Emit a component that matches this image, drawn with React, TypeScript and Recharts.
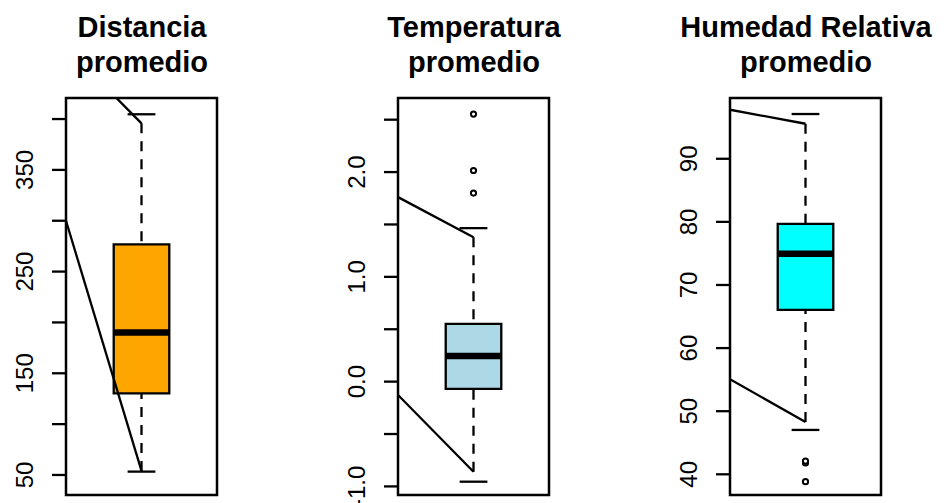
import React from "react";
import {
  ComposedChart,
  XAxis,
  YAxis,
  Scatter,
  ReferenceArea,
  ReferenceLine,
} from "recharts";

// boxplot stats, one entry per panel
const titles = [
  ["Distancia", "promedio"],
  ["Temperatura", "promedio"],
  ["Humedad Relativa", "promedio"],
];
const lowerCaps = [53.3, -0.955, 47.03];
const lowerWhiskerEnds = [54, -0.86, 48.29];
const q1s = [130.3, -0.07, 66.06];
const medians = [190, 0.245, 74.94];
const q3s = [276.8, 0.551, 79.69];
const upperWhiskerEnds = [395.8, 1.379, 95.55];
const upperCaps = [404.7, 1.465, 97.09];
const outliers = [[], [2.554, 2.015, 1.8], [41.8, 42.1, 38.83]];

// the two stray lines in each panel start at the left edge (x = 0.5)
const upperLineStarts = [470.8, 1.761, 97.77];
const lowerLineStarts = [300, -0.127, 55.06];

// axes
const yDomains = [
  [30.3, 420.7],
  [-1.082, 2.707],
  [36.72, 99.63],
];
const yTicks = [
  [50, 100, 150, 200, 250, 300, 350, 400],
  [-1, -0.5, 0, 0.5, 1, 1.5, 2, 2.5],
  [40, 50, 60, 70, 80, 90],
];
const yTickLabels = [
  [50, 150, 250, 350],
  [-1, 0, 1, 2],
  [40, 50, 60, 70, 80, 90],
];
const tickDigits = [0, 1, 0];

const boxColors = ["#FFA500", "#ADD8E6", "#00FFFF"];
const chartLefts = [0, 332, 664];

const FONT = "'Liberation Sans', Arial, sans-serif";
const HALF_BOX = 0.184;
const HALF_CAP = 0.092;
const LW = 2.3;

function makeTick(labeled: number[], digits: number) {
  return (props: any) => {
    const { x, y, payload } = props;
    const v = payload.value;
    if (!labeled.some((l) => Math.abs(l - v) < 1e-9)) return <g />;
    const cx = x - 27;
    return (
      <text
        x={cx}
        y={y}
        transform={`rotate(-90 ${cx} ${y})`}
        textAnchor="middle"
        dominantBaseline="central"
        fontSize={24}
        fontFamily={FONT}
        fill="#000"
      >
        {v.toFixed(digits)}
      </text>
    );
  };
}

function Panel({ i }: { i: number }) {
  const [ymin, ymax] = yDomains[i];
  const pts = outliers[i].map((v) => ({ x: 1, y: v }));
  return (
    <div style={{ position: "absolute", left: chartLefts[i], top: 0 }}>
      <ComposedChart
        width={230}
        height={503}
        margin={{ top: 98, right: 13, bottom: 8, left: 0 }}
      >
        <XAxis
          type="number"
          dataKey="x"
          domain={[0.5, 1.5]}
          allowDataOverflow
          hide
        />
        <YAxis
          type="number"
          dataKey="y"
          width={66}
          domain={[ymin, ymax]}
          allowDataOverflow
          ticks={yTicks[i]}
          interval={0}
          tickSize={14}
          tickMargin={0}
          axisLine={false}
          tickLine={{ stroke: "#000", strokeWidth: LW }}
          tick={makeTick(yTickLabels[i], tickDigits[i])}
        />
        {/* stray lines, clipped to the plot region */}
        <ReferenceLine
          segment={[
            { x: 0.5, y: upperLineStarts[i] },
            { x: 1, y: upperWhiskerEnds[i] },
          ]}
          stroke="#000"
          strokeWidth={LW}
          ifOverflow="hidden"
        />
        <ReferenceLine
          segment={[
            { x: 0.5, y: lowerLineStarts[i] },
            { x: 1, y: lowerWhiskerEnds[i] },
          ]}
          stroke="#000"
          strokeWidth={LW}
          ifOverflow="hidden"
        />
        {/* whiskers */}
        <ReferenceLine
          segment={[
            { x: 1, y: upperWhiskerEnds[i] },
            { x: 1, y: q3s[i] },
          ]}
          stroke="#000"
          strokeWidth={LW}
          strokeDasharray="10 8"
        />
        <ReferenceLine
          segment={[
            { x: 1, y: lowerWhiskerEnds[i] },
            { x: 1, y: q1s[i] },
          ]}
          stroke="#000"
          strokeWidth={LW}
          strokeDasharray="10 8"
        />
        <ReferenceLine
          segment={[
            { x: 1 - HALF_CAP, y: upperCaps[i] },
            { x: 1 + HALF_CAP, y: upperCaps[i] },
          ]}
          stroke="#000"
          strokeWidth={LW}
        />
        <ReferenceLine
          segment={[
            { x: 1 - HALF_CAP, y: lowerCaps[i] },
            { x: 1 + HALF_CAP, y: lowerCaps[i] },
          ]}
          stroke="#000"
          strokeWidth={LW}
        />
        {/* box */}
        <ReferenceArea
          x1={1 - HALF_BOX}
          x2={1 + HALF_BOX}
          y1={q1s[i]}
          y2={q3s[i]}
          fill={boxColors[i]}
          fillOpacity={1}
          stroke="#000"
          strokeWidth={LW}
        />
        <ReferenceLine
          segment={[
            { x: 1 - HALF_BOX, y: medians[i] },
            { x: 1 + HALF_BOX, y: medians[i] },
          ]}
          stroke="#000"
          strokeWidth={6.5}
        />
        <Scatter
          data={pts}
          isAnimationActive={false}
          shape={(p: any) => (
            <circle
              cx={p.cx}
              cy={p.cy}
              r={2.6}
              fill="#fff"
              stroke="#000"
              strokeWidth={2}
            />
          )}
        />
        {/* plot frame */}
        <ReferenceArea
          x1={0.5}
          x2={1.5}
          y1={ymin}
          y2={ymax}
          fill="none"
          stroke="#000"
          strokeWidth={2.5}
          ifOverflow="visible"
        />
      </ComposedChart>
    </div>
  );
}

const titleCenters = [142, 474, 806];

export default function App() {
  return (
    <div
      style={{
        position: "fixed",
        left: 0,
        top: 0,
        width: 950,
        height: 503,
        background: "#fff",
        overflow: "hidden",
      }}
    >
      {[0, 1, 2].map((i) => (
        <Panel key={i} i={i} />
      ))}
      <svg
        width={950}
        height={100}
        style={{ position: "absolute", left: 0, top: 0, pointerEvents: "none" }}
      >
        {titles.map((t, i) => (
          <text
            key={i}
            textAnchor="middle"
            fontFamily={FONT}
            fontWeight="bold"
            fontSize={29}
            fill="#000"
          >
            <tspan x={titleCenters[i]} y={36.7}>
              {t[0]}
            </tspan>
            <tspan x={titleCenters[i]} y={71.7}>
              {t[1]}
            </tspan>
          </text>
        ))}
      </svg>
    </div>
  );
}
